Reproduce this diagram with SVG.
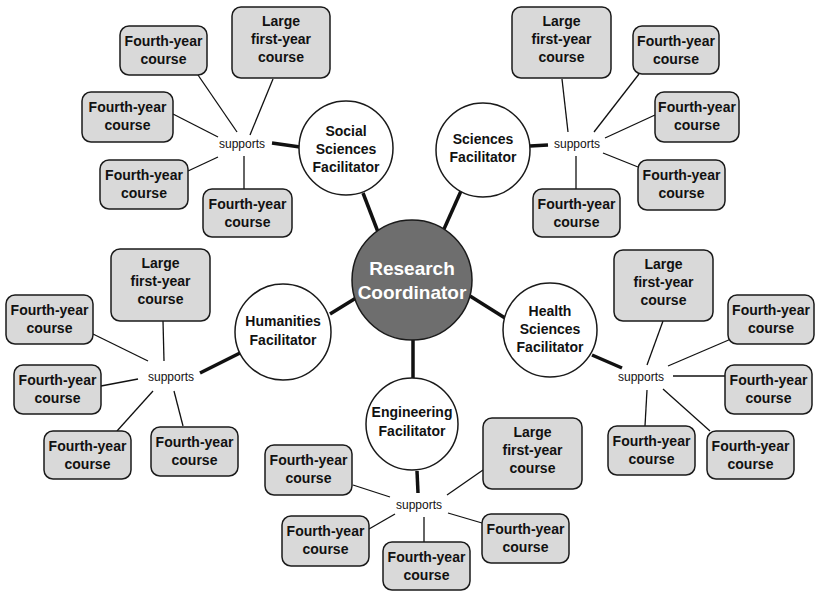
<svg xmlns="http://www.w3.org/2000/svg" width="816" height="592" viewBox="0 0 816 592">
<style>
.bg{fill:#ffffff}
.box{fill:#d9d9d9;stroke:#1a1a1a;stroke-width:1.5}
.fac{fill:#ffffff;stroke:#1a1a1a;stroke-width:1.5}
.hub{fill:#6e6e6e;stroke:#1a1a1a;stroke-width:1.5}
.thick{stroke:#111;stroke-width:3.5;fill:none}
.thin{stroke:#111;stroke-width:1.3;fill:none}
text{font-family:"Liberation Sans",Arial,sans-serif;text-anchor:middle;fill:#111}
.t{font-size:14px;font-weight:bold}
.f{font-size:14px;font-weight:bold}
.h{font-size:19px;font-weight:bold;fill:#ffffff}
.s{font-size:12px}
</style>
<rect class="bg" x="0" y="0" width="816" height="592"/>
<g id="connectors">
<line class="thick" x1="378" y1="232" x2="363" y2="193"/>
<line class="thick" x1="444" y1="229" x2="461" y2="191"/>
<line class="thick" x1="356" y1="298" x2="330" y2="314"/>
<line class="thick" x1="470" y1="296" x2="505" y2="318"/>
<line class="thick" x1="413" y1="340" x2="413" y2="378"/>
<line class="thick" x1="272" y1="143" x2="300" y2="147"/>
<line class="thick" x1="530" y1="146" x2="548" y2="145"/>
<line class="thick" x1="200" y1="373" x2="240" y2="353"/>
<line class="thick" x1="592" y1="355" x2="622" y2="368"/>
<line class="thick" x1="417" y1="471" x2="418" y2="493"/>
<line class="thin" x1="198" y1="75" x2="237" y2="132"/>
<line class="thin" x1="273" y1="79" x2="250" y2="135"/>
<line class="thin" x1="173" y1="114" x2="218" y2="137"/>
<line class="thin" x1="188" y1="171" x2="218" y2="157"/>
<line class="thin" x1="244" y1="156" x2="244" y2="189"/>
<line class="thin" x1="562" y1="79" x2="568" y2="132"/>
<line class="thin" x1="639" y1="74" x2="594" y2="132"/>
<line class="thin" x1="655" y1="115" x2="605" y2="138"/>
<line class="thin" x1="638" y1="167" x2="603" y2="153"/>
<line class="thin" x1="576" y1="156" x2="576" y2="189"/>
<line class="thin" x1="163" y1="321" x2="164" y2="361"/>
<line class="thin" x1="93" y1="334" x2="148" y2="361"/>
<line class="thin" x1="101" y1="386" x2="138" y2="379"/>
<line class="thin" x1="117" y1="431" x2="153" y2="391"/>
<line class="thin" x1="174" y1="391" x2="183" y2="426"/>
<line class="thin" x1="663" y1="321" x2="647" y2="365"/>
<line class="thin" x1="731" y1="339" x2="668" y2="366"/>
<line class="thin" x1="673" y1="376" x2="725" y2="376"/>
<line class="thin" x1="663" y1="389" x2="710" y2="431"/>
<line class="thin" x1="647" y1="390" x2="645" y2="426"/>
<line class="thin" x1="483" y1="470" x2="447" y2="495"/>
<line class="thin" x1="353" y1="485" x2="390" y2="497"/>
<line class="thin" x1="369" y1="529" x2="395" y2="514"/>
<line class="thin" x1="424" y1="517" x2="424" y2="542"/>
<line class="thin" x1="448" y1="513" x2="482" y2="523"/>
</g>

<g id="hub">
<circle class="hub" cx="412" cy="280" r="60"/>
<text class="h" x="412" y="275">Research</text>
<text class="h" x="412" y="299">Coordinator</text>
</g>

<g id="fac-social">
<circle class="fac" cx="346" cy="148" r="47"/>
<text class="f" x="346" y="136">Social</text>
<text class="f" x="346" y="154">Sciences</text>
<text class="f" x="346" y="172">Facilitator</text>
</g>
<g id="fac-sciences">
<circle class="fac" cx="483" cy="150" r="47"/>
<text class="f" x="483" y="144">Sciences</text>
<text class="f" x="483" y="162">Facilitator</text>
</g>
<g id="fac-humanities">
<circle class="fac" cx="283" cy="332" r="48"/>
<text class="f" x="283" y="326">Humanities</text>
<text class="f" x="283" y="345">Facilitator</text>
</g>
<g id="fac-health">
<circle class="fac" cx="550" cy="330" r="47"/>
<text class="f" x="550" y="316">Health</text>
<text class="f" x="550" y="334">Sciences</text>
<text class="f" x="550" y="352">Facilitator</text>
</g>
<g id="fac-engineering">
<circle class="fac" cx="412" cy="424" r="46"/>
<text class="f" x="412" y="417">Engineering</text>
<text class="f" x="412" y="436">Facilitator</text>
</g>

<g id="sup-social"><text class="s" x="242" y="148">supports</text></g>
<g id="sup-sciences"><text class="s" x="577" y="148">supports</text></g>
<g id="sup-humanities"><text class="s" x="171" y="381">supports</text></g>
<g id="sup-health"><text class="s" x="641" y="381">supports</text></g>
<g id="sup-engineering"><text class="s" x="419" y="509">supports</text></g>

<g id="ss-large"><rect class="box" x="232" y="7" width="98" height="71" rx="9"/>
<text class="t" x="281" y="26">Large</text><text class="t" x="281" y="44">first-year</text><text class="t" x="281" y="62">course</text></g>
<g id="ss-c1"><rect class="box" x="120" y="26" width="87" height="49" rx="9"/>
<text class="t" x="163.5" y="46">Fourth-year</text><text class="t" x="163.5" y="64">course</text></g>
<g id="ss-c2"><rect class="box" x="82" y="92" width="91" height="50" rx="9"/>
<text class="t" x="127.5" y="112">Fourth-year</text><text class="t" x="127.5" y="130">course</text></g>
<g id="ss-c3"><rect class="box" x="100" y="160" width="88" height="49" rx="9"/>
<text class="t" x="144" y="180">Fourth-year</text><text class="t" x="144" y="198">course</text></g>
<g id="ss-c4"><rect class="box" x="203" y="189" width="89" height="48" rx="9"/>
<text class="t" x="247.5" y="209">Fourth-year</text><text class="t" x="247.5" y="227">course</text></g>

<g id="sc-large"><rect class="box" x="512" y="7" width="99" height="71" rx="9"/>
<text class="t" x="561.5" y="26">Large</text><text class="t" x="561.5" y="44">first-year</text><text class="t" x="561.5" y="62">course</text></g>
<g id="sc-c1"><rect class="box" x="633" y="26" width="86" height="48" rx="9"/>
<text class="t" x="676" y="46">Fourth-year</text><text class="t" x="676" y="64">course</text></g>
<g id="sc-c2"><rect class="box" x="655" y="92" width="84" height="50" rx="9"/>
<text class="t" x="697" y="112">Fourth-year</text><text class="t" x="697" y="130">course</text></g>
<g id="sc-c3"><rect class="box" x="638" y="160" width="87" height="50" rx="9"/>
<text class="t" x="681.5" y="180">Fourth-year</text><text class="t" x="681.5" y="198">course</text></g>
<g id="sc-c4"><rect class="box" x="533" y="189" width="87" height="48" rx="9"/>
<text class="t" x="576.5" y="209">Fourth-year</text><text class="t" x="576.5" y="227">course</text></g>

<g id="hu-large"><rect class="box" x="111" y="249" width="99" height="72" rx="9"/>
<text class="t" x="160.5" y="268">Large</text><text class="t" x="160.5" y="286">first-year</text><text class="t" x="160.5" y="304">course</text></g>
<g id="hu-c1"><rect class="box" x="6" y="295" width="87" height="49" rx="9"/>
<text class="t" x="49.5" y="315">Fourth-year</text><text class="t" x="49.5" y="333">course</text></g>
<g id="hu-c2"><rect class="box" x="14" y="365" width="87" height="49" rx="9"/>
<text class="t" x="57.5" y="385">Fourth-year</text><text class="t" x="57.5" y="403">course</text></g>
<g id="hu-c3"><rect class="box" x="44" y="431" width="87" height="48" rx="9"/>
<text class="t" x="87.5" y="451">Fourth-year</text><text class="t" x="87.5" y="469">course</text></g>
<g id="hu-c4"><rect class="box" x="151" y="427" width="87" height="49" rx="9"/>
<text class="t" x="194.5" y="447">Fourth-year</text><text class="t" x="194.5" y="465">course</text></g>

<g id="he-large"><rect class="box" x="614" y="250" width="99" height="71" rx="9"/>
<text class="t" x="663.5" y="269">Large</text><text class="t" x="663.5" y="287">first-year</text><text class="t" x="663.5" y="305">course</text></g>
<g id="he-c1"><rect class="box" x="728" y="295" width="86" height="49" rx="9"/>
<text class="t" x="771" y="315">Fourth-year</text><text class="t" x="771" y="333">course</text></g>
<g id="he-c2"><rect class="box" x="725" y="365" width="87" height="49" rx="9"/>
<text class="t" x="768.5" y="385">Fourth-year</text><text class="t" x="768.5" y="403">course</text></g>
<g id="he-c3"><rect class="box" x="707" y="431" width="87" height="48" rx="9"/>
<text class="t" x="750.5" y="451">Fourth-year</text><text class="t" x="750.5" y="469">course</text></g>
<g id="he-c4"><rect class="box" x="608" y="426" width="87" height="49" rx="9"/>
<text class="t" x="651.5" y="446">Fourth-year</text><text class="t" x="651.5" y="464">course</text></g>

<g id="en-large"><rect class="box" x="483" y="418" width="99" height="71" rx="9"/>
<text class="t" x="532.5" y="437">Large</text><text class="t" x="532.5" y="455">first-year</text><text class="t" x="532.5" y="473">course</text></g>
<g id="en-c1"><rect class="box" x="265" y="445" width="87" height="50" rx="9"/>
<text class="t" x="308.5" y="465">Fourth-year</text><text class="t" x="308.5" y="483">course</text></g>
<g id="en-c2"><rect class="box" x="282" y="516" width="87" height="50" rx="9"/>
<text class="t" x="325.5" y="536">Fourth-year</text><text class="t" x="325.5" y="554">course</text></g>
<g id="en-c3"><rect class="box" x="383" y="542" width="87" height="48" rx="9"/>
<text class="t" x="426.5" y="562">Fourth-year</text><text class="t" x="426.5" y="580">course</text></g>
<g id="en-c4"><rect class="box" x="482" y="514" width="87" height="49" rx="9"/>
<text class="t" x="525.5" y="534">Fourth-year</text><text class="t" x="525.5" y="552">course</text></g>
</svg>
